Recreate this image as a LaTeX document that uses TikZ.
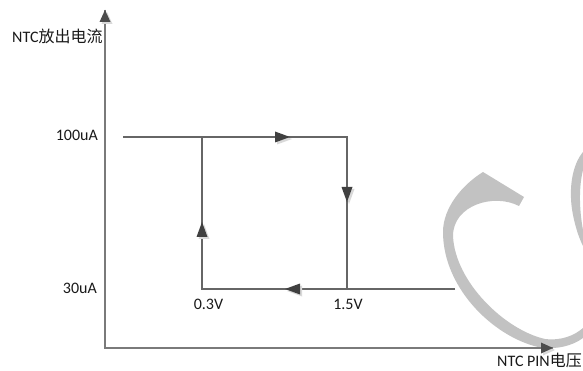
\documentclass[tikz,border=0pt]{standalone}
\usepackage{fontspec}
\setmainfont{Carlito}
\newfontfamily\cjk{Noto Sans CJK SC}
\begin{document}
\begin{tikzpicture}[x=1pt,y=-1pt,
  lbl/.style={inner sep=0pt,font=\fontsize{16}{19}\selectfont,text=black!90},
  curve/.style={draw=black!60,line width=1.1pt},
  axis/.style={draw=black!52,line width=1.6pt},
  shade/.style={draw=black!15,line width=1.6pt},
  pics/tri/.style={code={
    \fill[black!15,shift={(2,2)},rotate=#1] (0,0)--(-15,-5.5)--(-15,5.5)--cycle;
    \fill[black!75,rotate=#1] (0,0)--(-15,-5.5)--(-15,5.5)--cycle;}},
  pics/atri/.style={code={
    \fill[black!15,shift={(2,2)},rotate=#1] (0,0)--(-12,-5.5)--(-12,5.5)--cycle;
    \fill[black!70,rotate=#1] (0,0)--(-12,-5.5)--(-12,5.5)--cycle;}}]
\useasboundingbox (0,0) rectangle (583,371);
\fill[white] (0,0) rectangle (583,371);
% watermark
\fill[black!24] (483,172) -- (524,197) -- (519,206)
  .. controls (494,193) and (453,205) .. (453,236)
  .. controls (455,282) and (505,330) .. (545,339)
  .. controls (562,341) and (575,335) .. (583,328)
  -- (583,338)
  .. controls (572,346) and (558,349) .. (543,348)
  .. controls (497,340) and (443,290) .. (443,232)
  .. controls (443,208) and (462,185) .. (483,172) -- cycle;
\fill[black!24] (583,152) .. controls (572,165) and (568,190) .. (573,215)
  .. controls (576,230) and (580,240) .. (583,246) -- (583,230)
  .. controls (580,214) and (578,190) .. (583,170) -- cycle;
% coordinates
\coordinate (O) at (105,348);
\coordinate (Ytip) at (105,10);
\coordinate (Xtip) at (553,348);
\coordinate (A) at (123,137);
\coordinate (B) at (202,137);
\coordinate (C) at (347,137);
\coordinate (D) at (347,289);
\coordinate (E) at (202,289);
\coordinate (F) at (455,289);
% shadows
\begin{scope}[shift={(2.5,2.5)}]
\draw[shade] (Ytip) -- (O) -- (Xtip);
\draw[shade] (A) -- (C) -- (D);
\draw[shade] (F) -- (E) -- (B);
\end{scope}
% axes
\draw[axis] (Ytip) -- (O) -- (Xtip);
% loop
\draw[curve] (A) -- (C) -- (D);
\draw[curve] (F) -- (E) -- (B);
% arrowheads
\pic at (Ytip) {atri=90};
\pic at (Xtip) {atri=0};
\pic at (290,137) {tri=0};
\pic at (347,202) {tri=-90};
\pic at (285,289) {tri=180};
\pic at (202,222) {tri=90};
% labels
\node[lbl,anchor=base west] (ylab) at (12,42.5) {NTC\cjk{放出电流}};
\node[lbl,anchor=base east] (xlab) at (582,366) {NTC PIN\cjk{电压}};
\node[lbl,anchor=base east] (i100) at (98,141) {100uA};
\node[lbl,anchor=base east] (i30) at (97,293) {30uA};
\node[lbl,anchor=base] (v03) at (208.5,309) {0.3V};
\node[lbl,anchor=base] (v15) at (348,309) {1.5V};
\end{tikzpicture}
\end{document}
